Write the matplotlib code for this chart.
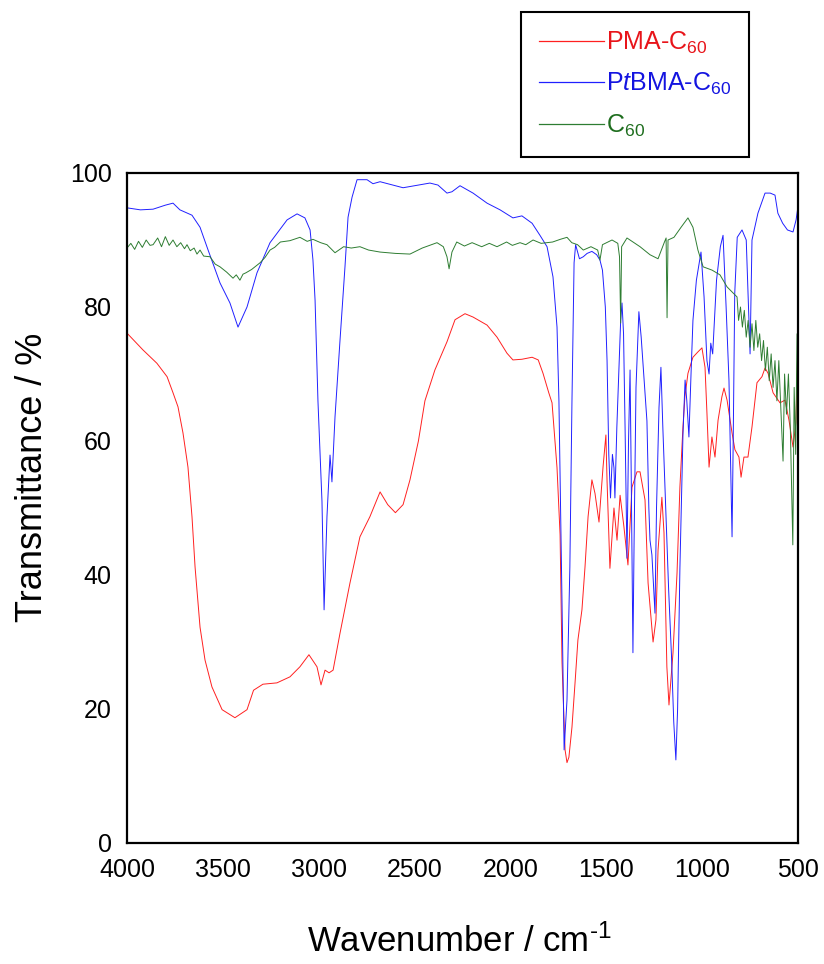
import matplotlib
matplotlib.use("Agg")
import matplotlib.pyplot as plt

plt.rcParams['font.family'] = ['Liberation Sans', 'DejaVu Sans']
plt.rcParams['mathtext.fontset'] = 'custom'
plt.rcParams['mathtext.rm'] = 'Liberation Sans'
plt.rcParams['mathtext.it'] = 'Liberation Sans:italic'

# PMA-C60 spectrum (wavenumber cm-1, transmittance %)
pma_wn = [4000, 3917, 3844, 3791, 3760, 3734, 3708, 3682, 3661, 3645, 3619, 3593,
          3557, 3504, 3437, 3374, 3340, 3291, 3218, 3150, 3098, 3051, 3009, 2988,
          2967, 2946, 2925, 2889, 2837, 2785, 2733, 2680, 2640, 2600, 2560, 2524,
          2480, 2446, 2394, 2331, 2289, 2237, 2195, 2122, 2070, 2018, 1987, 1940,
          1887, 1855, 1830, 1800, 1783, 1757, 1741, 1731, 1715, 1705, 1695, 1679,
          1663, 1648, 1627, 1611, 1595, 1575, 1559, 1538, 1517, 1502, 1496, 1481,
          1460, 1444, 1428, 1408, 1387, 1366, 1340, 1324, 1298, 1282, 1256, 1241,
          1230, 1210, 1199, 1184, 1173, 1152, 1131, 1116, 1100, 1090, 1074, 1048,
          1022, 1001, 985, 975, 964, 949, 933, 917, 897, 886, 870, 844, 829, 808,
          797, 782, 761, 740, 714, 688, 672, 656, 630, 594, 568, 547, 526, 511, 500]
pma_t = [76.1, 73.6, 71.6, 69.6, 67.2, 65.1, 61.2, 56.1, 48.7, 41.2, 32.2, 27.3,
         23.3, 19.9, 18.7, 19.9, 22.8, 23.7, 23.9, 24.8, 26.3, 28.1, 26.3, 23.6,
         25.8, 25.4, 25.8, 31.3, 38.8, 45.7, 48.7, 52.4, 50.5, 49.3, 50.5, 54.2,
         60.0, 66.0, 70.6, 74.8, 78.1, 79.0, 78.5, 77.3, 75.5, 73.1, 72.1, 72.2,
         72.5, 72.1, 70.1, 67.2, 65.7, 56.0, 46.0, 27.0, 13.9, 12.0, 12.8, 17.3,
         23.9, 30.3, 34.8, 41.2, 48.7, 54.2, 52.2, 47.9, 56.1, 60.9, 54.0, 41.0,
         50.0, 45.2, 51.9, 47.2, 41.5, 53.1, 55.4, 55.4, 51.2, 38.8, 30.0, 33.3,
         43.7, 51.6, 46.3, 26.3, 20.6, 28.4, 40.3, 53.1, 62.1, 66.6, 70.1, 72.5,
         73.3, 73.9, 71.0, 64.2, 56.1, 60.6, 57.6, 63.1, 66.6, 67.9, 66.1, 61.2,
         58.7, 57.6, 54.6, 57.6, 57.6, 62.1, 68.7, 69.6, 70.9, 70.1, 67.2, 65.7,
         66.1, 63.1, 59.1, 62.7, 75.1]

# PtBMA-C60 spectrum
ptbma_wn = [4000, 3930, 3864, 3800, 3760, 3724, 3661, 3619, 3577, 3515, 3463, 3421,
            3374, 3322, 3254, 3165, 3113, 3072, 3045, 3030, 3019, 3004, 2983, 2972,
            2957, 2941, 2931, 2915, 2889, 2863, 2847, 2826, 2800, 2748, 2717, 2680,
            2560, 2420, 2378, 2331, 2305, 2263, 2195, 2122, 2054, 1987, 1940, 1887,
            1846, 1809, 1778, 1757, 1747, 1731, 1720, 1705, 1690, 1679, 1674, 1668,
            1660, 1640, 1620, 1600, 1575, 1550, 1533, 1520, 1505, 1496, 1487, 1478,
            1468, 1460, 1455, 1445, 1435, 1425, 1418, 1410, 1402, 1392, 1384, 1376,
            1370, 1361, 1355, 1345, 1330, 1318, 1300, 1288, 1278, 1272, 1262, 1246,
            1238, 1225, 1215, 1205, 1190, 1175, 1160, 1148, 1137, 1128, 1116, 1100,
            1089, 1080, 1069, 1058, 1048, 1030, 1006, 990, 975, 964, 955, 945, 925,
            905, 891, 875, 860, 850, 844, 838, 830, 817, 792, 770, 760, 750, 740,
            709, 672, 645, 620, 605, 580, 555, 526, 510, 500]
ptbma_t = [94.8, 94.5, 94.6, 95.2, 95.5, 94.5, 93.7, 91.9, 88.5, 83.6, 80.6, 77.0,
           80.0, 85.1, 89.6, 93.0, 93.9, 93.3, 91.5, 87.0, 81.0, 66.0, 51.0, 34.8,
           48.7, 57.9, 53.9, 63.6, 75.0, 86.0, 93.4, 96.4, 99.0, 99.0, 98.4, 98.7,
           97.8, 98.5, 98.2, 97.0, 97.2, 98.1, 97.0, 95.5, 94.5, 93.3, 93.6, 92.5,
           90.7, 89.0, 84.5, 77.0, 66.0, 36.0, 13.9, 21.3, 41.2, 66.0, 75.0, 86.6,
           89.3, 87.2, 87.5, 88.0, 88.3, 87.8, 87.0, 85.5, 80.0, 72.0, 58.0, 51.5,
           58.0, 56.0, 51.5, 62.0, 70.0, 78.0, 80.6, 76.0, 62.0, 42.5, 60.0, 70.6,
           55.0, 28.4, 45.0, 68.0, 79.3, 75.5, 68.0, 63.0, 50.0, 45.2, 43.0, 34.3,
           50.0, 65.0, 71.0, 62.0, 50.0, 38.0, 28.0, 18.0, 12.4, 20.0, 41.0, 61.0,
           69.1, 66.0, 60.6, 70.0, 78.0, 84.0, 88.2, 81.5, 72.0, 70.0, 74.6, 73.0, 84.0,
           89.0, 90.7, 80.0, 69.0, 54.0, 45.7, 60.0, 82.0, 90.4, 91.5, 90.0, 81.5, 73.0, 90.0,
           94.0, 97.0, 97.0, 96.7, 94.0, 92.5, 91.5, 91.2, 93.0, 95.0]

# C60 spectrum
c60_wn = [4000, 3980, 3960, 3940, 3920, 3900, 3880, 3864, 3840, 3820, 3800, 3780,
          3760, 3740, 3720, 3700, 3687, 3670, 3650, 3635, 3619, 3600, 3567, 3540,
          3515, 3480, 3447, 3430, 3411, 3395, 3380, 3350, 3306, 3280, 3254, 3230,
          3200, 3150, 3098, 3060, 3030, 2990, 2957, 2915, 2870, 2830, 2785, 2740,
          2680, 2600, 2524, 2460, 2383, 2350, 2331, 2320, 2305, 2280, 2240, 2200,
          2150, 2110, 2070, 2020, 1990, 1950, 1920, 1882, 1840, 1780, 1740, 1705,
          1680, 1650, 1620, 1580, 1545, 1533, 1520, 1470, 1440, 1431, 1425, 1420,
          1392, 1324, 1272, 1230, 1198, 1188, 1183, 1178, 1147, 1110, 1074, 1048,
          1022, 995, 948, 907, 870, 818, 810, 800, 790, 780, 770, 760, 750, 740,
          730, 720, 710, 700, 690, 680, 670, 660, 650, 640, 630, 620, 610, 600,
          590, 578, 570, 560, 550, 540, 527, 520, 512, 505, 500]
c60_t = [88.8, 89.5, 88.6, 89.8, 88.9, 90.0, 89.2, 89.3, 90.3, 89.0, 90.5, 89.2,
         90.0, 89.0, 89.6, 88.7, 89.3, 88.4, 88.8, 87.9, 88.5, 87.6, 87.5, 86.4,
         86.0, 85.2, 84.3, 84.8, 84.0, 84.9, 85.1, 85.6, 86.6, 87.4, 88.5, 88.9,
         89.7, 89.9, 90.4, 89.8, 90.1, 89.6, 89.3, 88.1, 89.0, 88.8, 89.0, 88.5,
         88.2, 88.0, 87.9, 88.8, 89.6, 89.0, 87.5, 85.7, 88.2, 89.7, 89.1, 89.6,
         89.0, 89.5, 89.0, 89.7, 89.2, 89.6, 89.3, 90.0, 89.5, 89.7, 90.1, 90.4,
         89.6, 89.3, 88.5, 89.0, 88.5, 87.0, 89.3, 90.0, 89.5, 87.5, 77.6, 89.0,
         90.3, 89.0, 87.8, 87.2, 89.6, 90.3, 78.4, 90.0, 90.4, 91.9, 93.3, 91.9,
         88.5, 86.0, 85.5, 84.8, 83.0, 81.5, 78.0, 80.0, 77.0, 79.5, 75.5, 78.0,
         74.0, 77.5, 73.5, 78.0, 74.0, 76.0, 72.0, 75.0, 70.5, 74.0, 69.0, 73.0,
         68.0, 72.0, 66.0, 72.0, 65.0, 57.0, 70.0, 64.0, 70.0, 62.0, 44.5, 68.0,
         58.0, 76.0, 55.0]

line_colors = ['#ff2020', '#2020ff', '#2e7d32']
text_colors = ['#e8141a', '#1414e0', '#1f6e1f']
labels = ['PMA-C$_{60}$', 'P$\\mathit{t}$BMA-C$_{60}$', 'C$_{60}$']

W, H = 824, 964
fig = plt.figure(figsize=(W / 100, H / 100), dpi=100)
ax = fig.add_axes([127 / W, 1 - 843 / H, 671 / W, 670 / H])

l1, = ax.plot(pma_wn, pma_t, color=line_colors[0], lw=0.7)
l2, = ax.plot(ptbma_wn, ptbma_t, color=line_colors[1], lw=0.7)
l3, = ax.plot(c60_wn, c60_t, color=line_colors[2], lw=0.7)

ax.set_xlim(4000, 500)
ax.set_ylim(0, 100)
ax.set_xticks(range(4000, 499, -500))
ax.set_yticks(range(0, 101, 20))
ax.tick_params(length=0, labelsize=18, pad=11)
for s in ax.spines.values():
    s.set_linewidth(1.6)

ax.set_xlabel('Wavenumber / cm$^{\\text{-1}}$', fontsize=25, va='top')
ax.xaxis.set_label_coords(0.496, -0.122)
ax.set_ylabel('Transmittance / %', fontsize=26)
ax.yaxis.set_label_coords(-0.115, 0.545)

leg = fig.legend([l1, l2, l3], labels, loc='upper left',
                 bbox_to_anchor=(521 / W, 1 - 12 / H), bbox_transform=fig.transFigure,
                 borderaxespad=0, fancybox=False, framealpha=1, edgecolor='black',
                 prop={'family': 'Liberation Sans', 'size': 18},
                 handlelength=2.6, handletextpad=0.12, labelspacing=0.62, borderpad=0.7)
leg.get_frame().set_linewidth(1.5)
for h, t, lc, tc in zip(leg.legend_handles, leg.get_texts(), line_colors, text_colors):
    h.set_color(lc)
    h.set_linewidth(0.9)
    t.set_color(tc)

fig.savefig('out.png', dpi=100)
